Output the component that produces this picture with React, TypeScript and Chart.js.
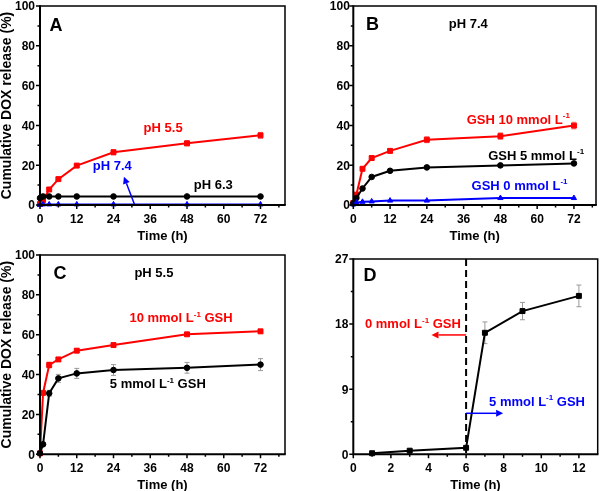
import React, { useEffect, useRef } from "react";
import { Chart, registerables } from "chart.js";
Chart.register(...registerables);

const FONT = '"Liberation Sans", Arial, Helvetica, sans-serif';

// ---------- Panel A ----------
const timeA = [0, 1, 3, 6, 12, 24, 48, 72];
const ph55A = [0.5, 2.5, 7.8, 13, 19.8, 26.5, 31, 35];
const ph55AErr = [0, 0.3, 0.5, 0.6, 0.8, 1.3, 1.3, 1.5];
const ph63A = [3.5, 4.3, 4.3, 4.3, 4.3, 4.3, 4.3, 4.3];
const ph74A = [0.1, 0.3, 0.3, 0.3, 0.3, 0.3, 0.3, 0.3];

// ---------- Panel B ----------
const timeB = [0, 1, 3, 6, 12, 24, 48, 72];
const gsh10B = [1, 5.2, 18.2, 23.6, 27.2, 32.8, 34.6, 39.9];
const gsh10BErr = [0, 0.5, 0.8, 1, 1, 1.5, 1.7, 1.7];
const gsh5B = [0.8, 3.5, 8.3, 14.1, 17.2, 18.9, 19.9, 20.9];
const gsh5BErr = [0, 0.3, 0.3, 0.4, 0.4, 0.5, 0.5, 0.5];
const gsh0B = [0.3, 1.2, 1.6, 1.8, 2.2, 2.2, 3.5, 3.5];

// ---------- Panel C ----------
const timeC = [0, 1, 3, 6, 12, 24, 48, 72];
const gsh10C = [0.5, 30.8, 44.8, 47.6, 52, 54.8, 60.2, 61.7];
const gsh10CErr = [0, 0.5, 1.5, 1, 1, 0.8, 0.8, 0.8];
const gsh5C = [0.5, 5, 30.6, 38.1, 40.6, 42.3, 43.4, 45];
const gsh5CErr = [0, 0.8, 1.5, 2, 2.5, 2.7, 2.7, 3];

// ---------- Panel D ----------
const timeD = [1, 3, 6, 7, 9, 12];
const releaseD = [0.15, 0.5, 0.9, 16.8, 19.8, 21.9];
const releaseDErr = [0.1, 0.1, 0.1, 1.5, 1.2, 1.5];

// ---------- Tick labels ----------
const timeTicks72 = [0, 12, 24, 36, 48, 60, 72];
const timeMinor72 = [6, 18, 30, 42, 54, 66, 78];
const pctTicks = [0, 20, 40, 60, 80, 100];
const pctMinor = [10, 30, 50, 70, 90];
const timeTicks12 = [0, 2, 4, 6, 8, 10, 12];
const timeMinor12 = [1, 3, 5, 7, 9, 11];
const dTicks = [0, 9, 18, 27];
const dMinor = [4.5, 13.5, 22.5];

const X_TITLE = "Time (h)";
const Y_TITLE = "Cumulative DOX release (%)";

const RED = "#ff0000";
const BLUE = "#0000ff";
const BLACK = "#000000";
const RED_ERR = "#f28c8c";
const GRAY_ERR = "#9a9a9a";

interface Series { t: number[]; v: number[]; err?: number[]; color: string; errColor?: string; style: string; radius: number; }
interface Label { x: number; y: number; parts: string[]; color: string; align?: "left" | "center"; size?: number; }
interface Arrow { x1: number; y1: number; x2: number; y2: number; color: string; }
interface Panel {
  id: string;
  canvas: { l: number; t: number; w: number; h: number };
  area: { l: number; t: number; r: number; b: number };
  x: { min: number; max: number; ticks: number[]; minor: number[] };
  y: { min: number; max: number; ticks: number[]; minor: number[] };
  yTitle: boolean;
  yPad: number;
  series: Series[];
  labels: Label[];
  arrows: Arrow[];
  dashedX?: number;
}

const panels: Panel[] = [
  {
    id: "A",
    canvas: { l: 0, t: 0, w: 300, h: 245 },
    area: { l: 40, t: 6, r: 285, b: 205 },
    x: { min: 0, max: 80, ticks: timeTicks72, minor: timeMinor72 },
    y: { min: 0, max: 100, ticks: pctTicks, minor: pctMinor },
    yTitle: true,
    yPad: 5,
    series: [
      { t: timeA, v: ph74A, color: BLUE, style: "triangle", radius: 3 },
      { t: timeA, v: ph63A, color: BLACK, style: "circle", radius: 2.8 },
      { t: timeA, v: ph55A, err: ph55AErr, color: RED, errColor: RED_ERR, style: "rect", radius: 3.5 },
    ],
    labels: [
      { x: 5.2, y: 90.8, parts: ["A"], color: BLACK, align: "center", size: 18 },
      { x: 40.2, y: 39.0, parts: ["pH 5.5"], color: RED, align: "center" },
      { x: 23.6, y: 19.7, parts: ["pH 7.4"], color: BLUE, align: "center" },
      { x: 56.6, y: 10.4, parts: ["pH 6.3"], color: BLACK, align: "center" },
    ],
    arrows: [{ x1: 30.8, y1: 0.5, x2: 27.4, y2: 14.2, color: BLUE }],
  },
  {
    id: "B",
    canvas: { l: 300, t: 0, w: 310, h: 245 },
    area: { l: 353.3, t: 6, r: 596, b: 205 },
    x: { min: 0, max: 79.2, ticks: timeTicks72, minor: timeMinor72 },
    y: { min: 0, max: 100, ticks: pctTicks, minor: pctMinor },
    yTitle: false,
    yPad: 3.5,
    series: [
      { t: timeB, v: gsh0B, color: BLUE, style: "triangle", radius: 3 },
      { t: timeB, v: gsh5B, err: gsh5BErr, color: BLACK, errColor: GRAY_ERR, style: "circle", radius: 2.8 },
      { t: timeB, v: gsh10B, err: gsh10BErr, color: RED, errColor: RED_ERR, style: "rect", radius: 3.5 },
    ],
    labels: [
      { x: 6.3, y: 91, parts: ["B"], color: BLACK, align: "center", size: 18 },
      { x: 37.5, y: 91.3, parts: ["pH 7.4"], color: BLACK, align: "center" },
      { x: 37, y: 43.2, parts: ["GSH 10 mmol L", "-1"], color: RED },
      { x: 44, y: 25.1, parts: ["GSH 5 mmol L", "-1"], color: BLACK },
      { x: 38.6, y: 10, parts: ["GSH 0 mmol L", "-1"], color: BLUE },
    ],
    arrows: [],
  },
  {
    id: "C",
    canvas: { l: 0, t: 245, w: 300, h: 246 },
    area: { l: 40, t: 255, r: 285, b: 454.3 },
    x: { min: 0, max: 80, ticks: timeTicks72, minor: timeMinor72 },
    y: { min: 0, max: 100, ticks: pctTicks, minor: pctMinor },
    yTitle: true,
    yPad: 5,
    series: [
      { t: timeC, v: gsh5C, err: gsh5CErr, color: BLACK, errColor: GRAY_ERR, style: "circle", radius: 2.8 },
      { t: timeC, v: gsh10C, err: gsh10CErr, color: RED, errColor: RED_ERR, style: "rect", radius: 3.5 },
    ],
    labels: [
      { x: 6.5, y: 91.1, parts: ["C"], color: BLACK, align: "center", size: 18 },
      { x: 37.2, y: 91.3, parts: ["pH 5.5"], color: BLACK, align: "center" },
      { x: 29.2, y: 68.5, parts: ["10 mmol L", "-1", " GSH"], color: RED },
      { x: 22.8, y: 35.6, parts: ["5 mmol L", "-1", " GSH"], color: BLACK },
    ],
    arrows: [],
  },
  {
    id: "D",
    canvas: { l: 300, t: 245, w: 310, h: 246 },
    area: { l: 353.3, t: 259, r: 597.7, b: 454.3 },
    x: { min: 0, max: 13, ticks: timeTicks12, minor: timeMinor12 },
    y: { min: 0, max: 27, ticks: dTicks, minor: dMinor },
    yTitle: false,
    yPad: 5,
    series: [{ t: timeD, v: releaseD, err: releaseDErr, color: BLACK, errColor: GRAY_ERR, style: "rect", radius: 3.5 }],
    labels: [
      { x: 0.89, y: 24.9, parts: ["D"], color: BLACK, align: "center", size: 18 },
      { x: 0.62, y: 18.1, parts: ["0 mmol L", "-1", " GSH"], color: RED },
      { x: 7.22, y: 7.37, parts: ["5 mmol L", "-1", " GSH"], color: BLUE },
    ],
    arrows: [
      { x1: 6, y1: 16.5, x2: 4.16, y2: 16.5, color: RED },
      { x1: 6, y1: 5.67, x2: 7.97, y2: 5.67, color: BLUE },
    ],
    dashedX: 6,
  },
];

function drawRich(ctx: CanvasRenderingContext2D, parts: string[], x: number, y: number, align: string, color: string, size: number) {
  const mainFont = `bold ${size}px ${FONT}`;
  const supFont = `bold ${Math.round(size * 0.62)}px ${FONT}`;
  let total = 0;
  const widths = parts.map((s, i) => {
    ctx.font = i % 2 === 1 ? supFont : mainFont;
    const w = ctx.measureText(s).width;
    total += w;
    return w;
  });
  let cx = align === "center" ? x - total / 2 : align === "right" ? x - total : x;
  const base = y + size * 0.36;
  ctx.fillStyle = color;
  ctx.textAlign = "left";
  ctx.textBaseline = "alphabetic";
  parts.forEach((s, i) => {
    const sup = i % 2 === 1;
    ctx.font = sup ? supFont : mainFont;
    ctx.fillText(s, cx, sup ? base - size * 0.42 : base);
    cx += widths[i];
  });
}

function makePlugin(p: Panel) {
  return {
    id: "deco" + p.id,
    beforeDatasetsDraw(chart: any) {
      const { ctx } = chart;
      const xs = chart.scales.x;
      const ys = chart.scales.y;
      ctx.save();
      if (p.dashedX !== undefined) {
        const px = xs.getPixelForValue(p.dashedX);
        ctx.strokeStyle = "#000";
        ctx.lineWidth = 2;
        ctx.setLineDash([7, 4]);
        ctx.beginPath();
        ctx.moveTo(px, ys.getPixelForValue(p.y.max));
        ctx.lineTo(px, ys.getPixelForValue(p.y.min));
        ctx.stroke();
        ctx.setLineDash([]);
      }
      ctx.lineWidth = 1;
      p.series.forEach((s) => {
        if (!s.err) return;
        ctx.strokeStyle = s.errColor || GRAY_ERR;
        s.t.forEach((t, i) => {
          const e = s.err![i];
          if (!e) return;
          const px = xs.getPixelForValue(t);
          const y1 = ys.getPixelForValue(s.v[i] - e);
          const y2 = ys.getPixelForValue(s.v[i] + e);
          ctx.beginPath();
          ctx.moveTo(px, y1);
          ctx.lineTo(px, y2);
          ctx.moveTo(px - 2.5, y1);
          ctx.lineTo(px + 2.5, y1);
          ctx.moveTo(px - 2.5, y2);
          ctx.lineTo(px + 2.5, y2);
          ctx.stroke();
        });
      });
      ctx.restore();
    },
    afterDraw(chart: any) {
      const ctx: CanvasRenderingContext2D = chart.ctx;
      const xs = chart.scales.x;
      const ys = chart.scales.y;
      const left = xs.getPixelForValue(p.x.min);
      const right = xs.getPixelForValue(p.x.max);
      const top = ys.getPixelForValue(p.y.max);
      const bottom = ys.getPixelForValue(p.y.min);
      ctx.save();
      ctx.setLineDash([]);
      ctx.globalAlpha = 1;
      // frame
      ctx.strokeStyle = "#000000";
      ctx.lineWidth = 1.5;
      ctx.beginPath();
      ctx.moveTo(left, top);
      ctx.lineTo(right, top);
      ctx.lineTo(right, bottom);
      ctx.stroke();
      ctx.lineWidth = 2;
      ctx.beginPath();
      ctx.moveTo(left, top - 0.75);
      ctx.lineTo(left, bottom);
      ctx.lineTo(right + 0.75, bottom);
      ctx.stroke();
      // ticks
      ctx.lineWidth = 1.5;
      ctx.beginPath();
      p.x.ticks.forEach((v) => {
        const px = xs.getPixelForValue(v);
        ctx.moveTo(px, bottom);
        ctx.lineTo(px, bottom + 4);
      });
      p.x.minor.forEach((v) => {
        if (v > p.x.max) return;
        const px = xs.getPixelForValue(v);
        ctx.moveTo(px, bottom);
        ctx.lineTo(px, bottom + 2.5);
      });
      p.y.ticks.forEach((v) => {
        const py = ys.getPixelForValue(v);
        ctx.moveTo(left - 4, py);
        ctx.lineTo(left, py);
      });
      p.y.minor.forEach((v) => {
        const py = ys.getPixelForValue(v);
        ctx.moveTo(left - 2.5, py);
        ctx.lineTo(left, py);
      });
      ctx.stroke();

      // tick labels
      ctx.fillStyle = "#000";
      ctx.font = `bold 12px ${FONT}`;
      ctx.textBaseline = "alphabetic";
      ctx.textAlign = "center";
      p.x.ticks.forEach((v) => {
        ctx.fillText(String(v), xs.getPixelForValue(v), bottom + 13.3 + 4.3);
      });
      ctx.textAlign = "right";
      p.y.ticks.forEach((v) => {
        ctx.fillText(String(v), left - p.yPad, ys.getPixelForValue(v) + 4.3);
      });
      // axis titles
      ctx.font = `bold 13px ${FONT}`;
      ctx.textAlign = "center";
      ctx.fillText(X_TITLE, (left + right) / 2, bottom + 30 + 4.7);
      if (p.yTitle) {
        ctx.save();
        ctx.font = `bold 14px ${FONT}`;
        ctx.translate(6.3, (top + bottom) / 2);
        ctx.rotate(-Math.PI / 2);
        ctx.fillText(Y_TITLE, 0, 5);
        ctx.restore();
      }

      p.arrows.forEach((a) => {
        const x1 = xs.getPixelForValue(a.x1);
        const y1 = ys.getPixelForValue(a.y1);
        const x2 = xs.getPixelForValue(a.x2);
        const y2 = ys.getPixelForValue(a.y2);
        const ang = Math.atan2(y2 - y1, x2 - x1);
        const hl = 7;
        const hw = 3.5;
        ctx.strokeStyle = a.color;
        ctx.fillStyle = a.color;
        ctx.lineWidth = 1.5;
        ctx.beginPath();
        ctx.moveTo(x1, y1);
        ctx.lineTo(x2 - hl * Math.cos(ang), y2 - hl * Math.sin(ang));
        ctx.stroke();
        ctx.beginPath();
        ctx.moveTo(x2, y2);
        ctx.lineTo(x2 - hl * Math.cos(ang) + hw * Math.sin(ang), y2 - hl * Math.sin(ang) - hw * Math.cos(ang));
        ctx.lineTo(x2 - hl * Math.cos(ang) - hw * Math.sin(ang), y2 - hl * Math.sin(ang) + hw * Math.cos(ang));
        ctx.closePath();
        ctx.fill();
      });

      p.labels.forEach((lb) => {
        drawRich(ctx, lb.parts, xs.getPixelForValue(lb.x), ys.getPixelForValue(lb.y), lb.align || "left", lb.color, lb.size || 13);
      });
      ctx.restore();
    },
  };
}

function PanelChart({ p }: { p: Panel }) {
  const ref = useRef<HTMLCanvasElement>(null);
  useEffect(() => {
    const canvas = ref.current;
    if (!canvas) return;
    const yW = p.area.l - p.canvas.l;
    const xH = p.canvas.t + p.canvas.h - p.area.b;
    const chart = new Chart(canvas, {
      type: "line",
      data: {
        datasets: p.series.map((s) => ({
          data: s.t.map((t, i) => ({ x: t, y: s.v[i] })),
          borderColor: s.color,
          backgroundColor: s.color,
          pointBackgroundColor: s.color,
          pointBorderColor: s.color,
          pointStyle: s.style as any,
          pointRadius: s.radius,
          pointBorderWidth: 1,
          borderWidth: 2,
          tension: 0,
          fill: false,
          clip: false as any,
        })),
      },
      options: {
        responsive: false,
        animation: false,
        devicePixelRatio: 1,
        layout: {
          padding: { left: 0, bottom: 0, top: p.area.t - p.canvas.t, right: p.canvas.l + p.canvas.w - p.area.r },
        },
        plugins: { legend: { display: false }, tooltip: { enabled: false } },
        scales: {
          x: {
            type: "linear",
            min: p.x.min,
            max: p.x.max,
            afterFit: (s: any) => {
              s.height = xH;
            },
            grid: { display: false },
            border: { display: false },
            ticks: { display: false },
            title: { display: false },
          },
          y: {
            type: "linear",
            min: p.y.min,
            max: p.y.max,
            afterFit: (s: any) => {
              s.width = yW;
            },
            grid: { display: false },
            border: { display: false },
            ticks: { display: false },
            title: { display: false },
          },
        },
      },
      plugins: [makePlugin(p)],
    } as any);
    return () => chart.destroy();
  }, [p]);
  return (
    <canvas
      ref={ref}
      width={p.canvas.w}
      height={p.canvas.h}
      style={{ position: "absolute", left: p.canvas.l, top: p.canvas.t, width: p.canvas.w, height: p.canvas.h }}
    />
  );
}

export default function App() {
  return (
    <div
      style={{
        position: "fixed",
        left: 0,
        top: 0,
        width: 600,
        height: 491,
        overflow: "hidden",
        background: "#fff",
      }}
    >
      {panels.map((p) => (
        <PanelChart key={p.id} p={p} />
      ))}
    </div>
  );
}
